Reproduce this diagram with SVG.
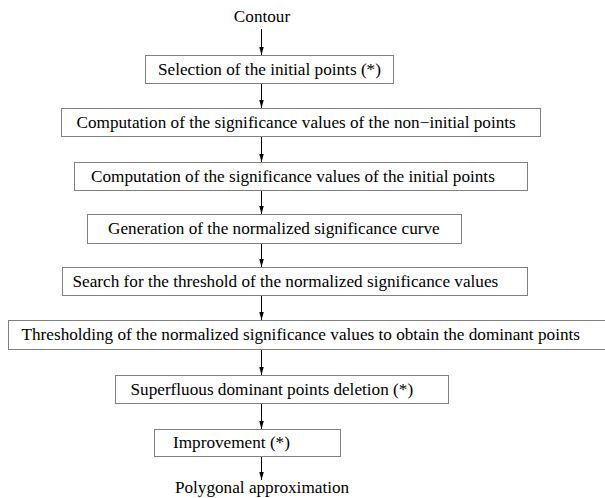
<svg xmlns="http://www.w3.org/2000/svg" width="605" height="498" viewBox="0 0 605 498">
<defs>
<marker id="ah" markerUnits="userSpaceOnUse" markerWidth="8" markerHeight="6" refX="8" refY="2.25" orient="auto">
<path d="M0,0 L8,2.25 L0,4.5 z" fill="#000"/>
</marker>
<style>
.box{fill:#fff;stroke:#808080;stroke-width:1}
.t{font-family:"Liberation Serif","Times New Roman",serif;font-size:17.2px;fill:#000}
.c{stroke:#000;stroke-width:1;fill:none}
</style>
</defs>
<rect width="605" height="498" fill="#fff"/>
<g id="contour"><text class="t" x="262" y="22" text-anchor="middle">Contour</text></g>
<g id="n1"><rect class="box" x="145.5" y="55.5" width="248" height="28"/><text class="t" x="158" y="75">Selection of the initial points (*)</text></g>
<g id="n2"><rect class="box" x="61.5" y="108.5" width="479" height="28"/><text class="t" x="76.5" y="127.5">Computation of the significance values of the non−initial points</text></g>
<g id="n3"><rect class="box" x="74.5" y="162.5" width="453" height="28"/><text class="t" x="91" y="181.5">Computation of the significance values of the initial points</text></g>
<g id="n4"><rect class="box" x="87.5" y="214.5" width="374" height="29"/><text class="t" x="108" y="234">Generation of the normalized significance curve</text></g>
<g id="n5"><rect class="box" x="62.5" y="267.5" width="465" height="28"/><text class="t" x="72.5" y="287">Search for the threshold of the normalized significance values</text></g>
<g id="n6"><rect class="box" x="8.5" y="320.5" width="600" height="29"/><text class="t" x="21.5" y="340">Thresholding of the normalized significance values to obtain the dominant points</text></g>
<g id="n7"><rect class="box" x="115.5" y="375.5" width="333" height="28"/><text class="t" x="130.5" y="395">Superfluous dominant points deletion (*)</text></g>
<g id="n8"><rect class="box" x="154.5" y="429.5" width="186" height="27"/><text class="t" x="173" y="448">Improvement (*)</text></g>
<g id="polygonal"><text class="t" x="262" y="493" text-anchor="middle">Polygonal approximation</text></g>
<g id="connectors">
<line class="c" x1="261.5" y1="29" x2="261.5" y2="55" marker-end="url(#ah)"/>
<line class="c" x1="261.5" y1="84" x2="261.5" y2="108" marker-end="url(#ah)"/>
<line class="c" x1="261.5" y1="137" x2="261.5" y2="162" marker-end="url(#ah)"/>
<line class="c" x1="261.5" y1="191" x2="261.5" y2="214" marker-end="url(#ah)"/>
<line class="c" x1="261.5" y1="244" x2="261.5" y2="267" marker-end="url(#ah)"/>
<line class="c" x1="261.5" y1="296" x2="261.5" y2="320" marker-end="url(#ah)"/>
<line class="c" x1="261.5" y1="350" x2="261.5" y2="375" marker-end="url(#ah)"/>
<line class="c" x1="261.5" y1="404" x2="261.5" y2="429" marker-end="url(#ah)"/>
<line class="c" x1="261.5" y1="457" x2="261.5" y2="480" marker-end="url(#ah)"/>
</g>
</svg>
